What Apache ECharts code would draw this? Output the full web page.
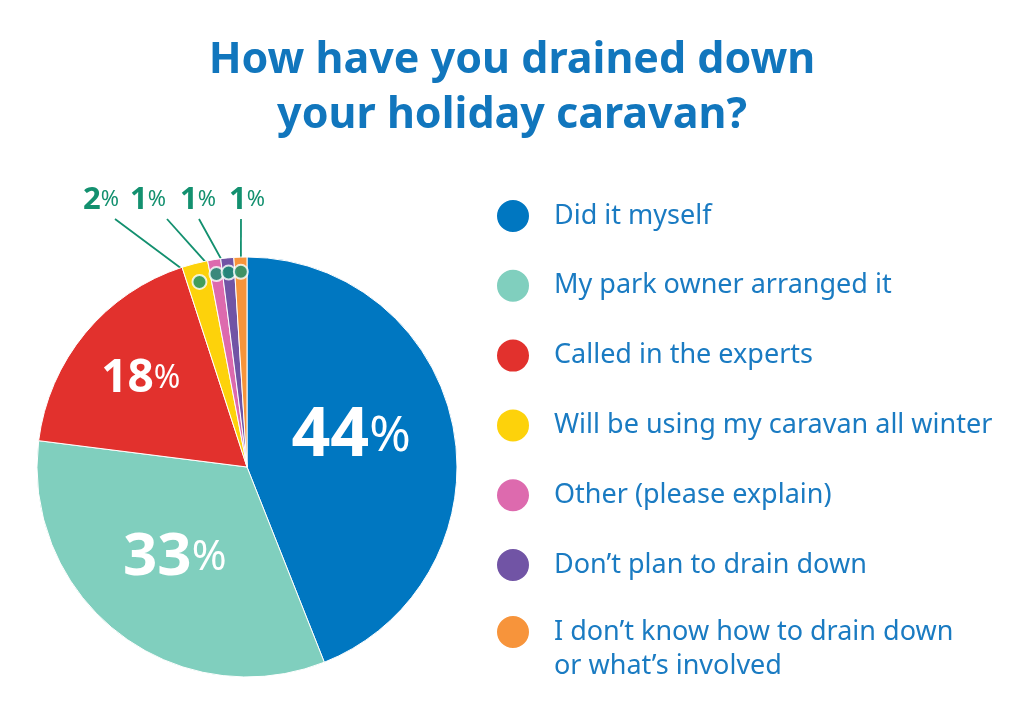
<!DOCTYPE html>
<html><head><meta charset="utf-8">
<script src="https://cdn.jsdelivr.net/npm/echarts@6/dist/echarts.min.js"></script>
<style>html,body{margin:0;background:#fff}#c{width:1024px;height:720px}</style>
</head><body><div id="c"></div>
<script>
const titleText = 'How have you drained down\nyour holiday caravan?';
const categories = ['Did it myself', 'My park owner arranged it', 'Called in the experts', 'Will be using my caravan all winter', 'Other (please explain)', 'Don\u2019t plan to drain down', 'I don\u2019t know how to drain down\nor what\u2019s involved'];
const values = [44, 33, 18, 2, 1, 1, 1];
const palette = ['#0077c1', '#80cfbe', '#e2312d', '#fdd20b', '#dd6aae', '#7154a5', '#f7943b'];

const CX = 247, CY = 467, R = 210;
const FONT = 'Noto Sans';
const BLUE_TEXT = '#1a7bc2';
const GREEN = '#13906f';
const smallLabelX = { 3: 101, 4: 148, 5: 198, 6: 247 };
const total = values.reduce((a, b) => a + b, 0);

// dots on the small slices, placed via polar scales
const dotData = [];
let cum = 0;
values.forEach((v, i) => {
  if (i >= 3) dotData.push([i === 3 ? 0.91 : 0.93, cum + v / 2]);
  cum += v;
});

const legendText = { fontFamily: FONT, fontSize: 27, color: BLUE_TEXT, lineHeight: 34, padding: [0, 0, 0, 19] };
const legendBase = {
  orient: 'vertical', left: 490, height: 600,
  icon: 'circle', itemWidth: 34, itemHeight: 34, itemGap: 33.8,
  textStyle: legendText, selectedMode: false
};

const chart = echarts.init(document.getElementById('c'));
chart.setOption({
  backgroundColor: '#fff',
  color: palette,
  title: {
    text: titleText, left: 'center', top: 28,
    textStyle: { fontFamily: FONT, fontSize: 43, fontWeight: 'bold', color: '#1176bd', lineHeight: 55 }
  },
  legend: [
    Object.assign({}, legendBase, { top: 193, data: categories.slice(0, 6) }),
    Object.assign({}, legendBase, { top: 576, data: categories.slice(6), formatter: n => '\n' + n })
  ],
  polar: { center: [CX, CY], radius: R },
  angleAxis: { type: 'value', min: 0, max: total, startAngle: 90, clockwise: true, show: false },
  radiusAxis: { type: 'value', min: 0, max: 1, show: false },
  series: [{
    type: 'pie', center: [CX, CY], radius: R, startAngle: 90, clockwise: true,
    animation: false, silent: true,
    itemStyle: { borderColor: '#fff', borderWidth: 1 },
    data: categories.map((c, i) => {
      const item = { name: c, value: values[i] };
      if (i === 0) item.label = { position: 'inside', offset: [-2, -10] };
      else if (i === 1) item.label = { position: 'inside', offset: [-6, 6] };
      else if (i === 2) item.label = { position: 'inside', offset: [-23, -19] };
      else item.label = { position: 'outside' };
      return item;
    }),
    label: {
      fontFamily: FONT,
      formatter: p => {
        const i = p.dataIndex;
        const k = i === 0 ? 1 : i === 1 ? 2 : i === 2 ? 3 : 4;
        return '{n' + k + '|' + p.value + '}{p' + k + '|%}';
      },
      rich: {
        n1: { fontFamily: FONT, fontSize: 68, fontWeight: 'bold', color: '#fff' },
        p1: { fontFamily: FONT, fontSize: 50, fontWeight: 'normal', color: '#fff' },
        n2: { fontFamily: FONT, fontSize: 60, fontWeight: 'bold', color: '#fff' },
        p2: { fontFamily: FONT, fontSize: 42, fontWeight: 'normal', color: '#fff' },
        n3: { fontFamily: FONT, fontSize: 46, fontWeight: 'bold', color: '#fff' },
        p3: { fontFamily: FONT, fontSize: 32, fontWeight: 'normal', color: '#fff' },
        n4: { fontFamily: FONT, fontSize: 31, fontWeight: 'bold', color: GREEN },
        p4: { fontFamily: FONT, fontSize: 22, fontWeight: 'normal', color: GREEN }
      }
    },
    labelLine: { show: true, length: 10, length2: 10, lineStyle: { color: GREEN, width: 1.8 } },
    labelLayout: params => {
      const i = params.dataIndex;
      if (i < 3) return {};
      const e = params.labelLinePoints[0];
      const f = i === 3 ? 0.91 : 0.93;
      const d = [CX + f * (e[0] - CX), CY + f * (e[1] - CY)];
      const lx = smallLabelX[i];
      const endX = i === 3 ? lx + 14 : i === 4 ? lx + 19 : i === 5 ? lx + 1 : lx - 6;
      return {
        x: lx, y: 200, align: 'center', verticalAlign: 'middle',
        labelLinePoints: [d, [(d[0] + endX) / 2, (d[1] + 219) / 2], [endX, 219]]
      };
    }
  }, {
    type: 'scatter', coordinateSystem: 'polar', data: dotData,
    symbol: 'circle', symbolSize: 14, silent: true, animation: false, z: 5,
    itemStyle: { color: GREEN, borderColor: '#fff', borderWidth: 2 }
  }]
});
</script></body></html>
